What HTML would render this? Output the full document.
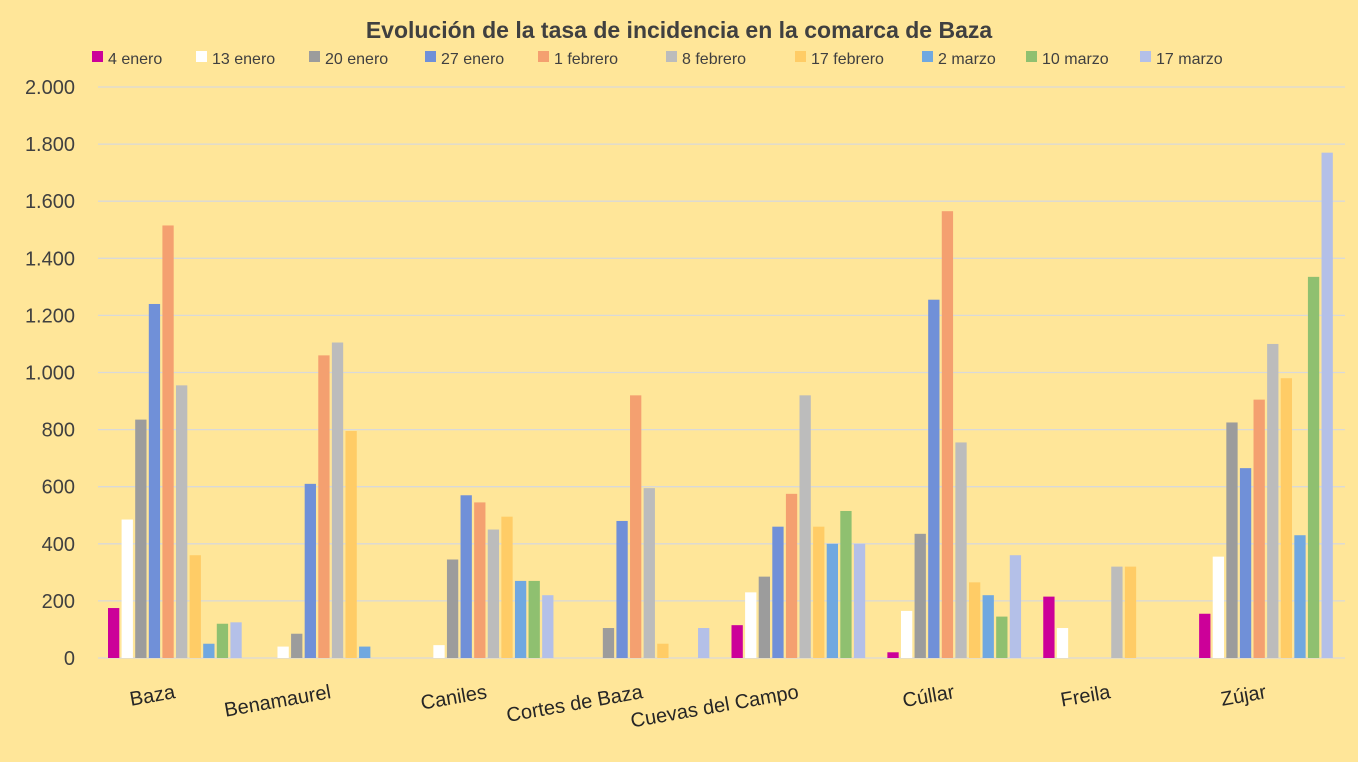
<!DOCTYPE html>
<html><head><meta charset="utf-8"><style>
html,body{margin:0;padding:0;background:#ffe699;}
svg{display:block;font-family:"Liberation Sans",sans-serif;}
</style></head><body>
<svg width="1358" height="762" viewBox="0 0 1358 762" xmlns="http://www.w3.org/2000/svg">
<rect width="1358" height="762" fill="#ffe699"/>
<text x="679" y="38" text-anchor="middle" font-size="23" font-weight="bold" fill="#404040">Evolución de la tasa de incidencia en la comarca de Baza</text>
<g id="legend" font-size="16" fill="#404040"></g>
<g id="grid"></g>
<g id="bars"></g>
<g id="cats" font-size="20" fill="#262626"></g>
<script>
var ns="http://www.w3.org/2000/svg";
function el(t,a,p,txt){var e=document.createElementNS(ns,t);for(var k in a)e.setAttribute(k,a[k]);if(txt!==undefined)e.textContent=txt;document.getElementById(p).appendChild(e);return e;}
var names=["4 enero","13 enero","20 enero","27 enero","1 febrero","8 febrero","17 febrero","2 marzo","10 marzo","17 marzo"];
var cols=["#cc0099","#ffffff","#9c9c9c","#7090d8","#f4a070","#bcbcbc","#ffcc66","#70a8e0","#8fc070","#b4c0e8"];
var lx=[92,196,309,425,538,666,795,922,1026,1140];
for(var i=0;i<10;i++){el("rect",{x:lx[i],y:51,width:11,height:11,fill:cols[i]},"legend");el("text",{x:lx[i]+16,y:64},"legend",names[i]);}
for(var v=0;v<=2000;v+=200){var y=658-v*57.1/200;
 if(v>0)el("line",{x1:98,x2:1345,y1:y,y2:y,stroke:"#d9d9d9","stroke-width":1.3},"grid");
 el("text",{x:75,y:y+7,"text-anchor":"end","font-size":20,fill:"#404040"},"grid",v===0?"0":(v/1000>=1?Math.floor(v/1000)+"."+String(v%1000).padStart(3,"0"):String(v)));}
el("line",{x1:98,x2:1345,y1:658,y2:658,stroke:"#d9d9d9","stroke-width":1.3},"grid");
var cats=["Baza","Benamaurel","Caniles","Cortes de Baza","Cuevas del Campo","Cúllar","Freila","Zújar"];
var data=[[175,485,835,1240,1515,955,360,50,120,125],[0,40,85,610,1060,1105,795,40,0,0],[0,45,345,570,545,450,495,270,270,220],[0,0,105,480,920,595,50,0,0,105],[115,230,285,460,575,920,460,400,515,400],[20,165,435,1255,1565,755,265,220,145,360],[215,105,0,0,0,320,320,0,0,0],[155,355,825,665,905,1100,980,430,1335,1770]];
var gw=(1345-98)/8;
for(var g=0;g<8;g++){var x0=98+g*gw+10;
 for(var b=0;b<10;b++){var v=data[g][b];if(v<=0)continue;var h=v*57.1/200;
  el("rect",{x:x0+b*13.6,y:658-h,width:11.3,height:h,fill:cols[b]},"bars");}
 var cx=98+g*gw+gw/2;el("text",{x:cx,y:698,"text-anchor":"end",transform:"rotate(-10 "+cx+" 698)"},"cats",cats[g]);}
</script>
</svg>
</body></html>
